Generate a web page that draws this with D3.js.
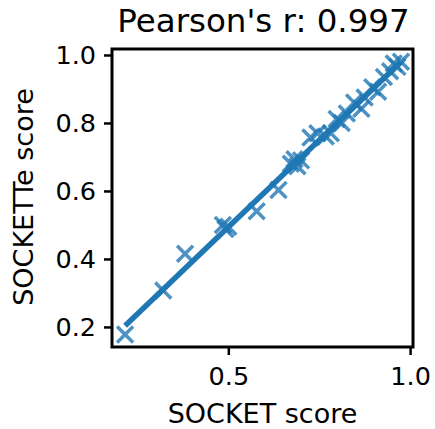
<!DOCTYPE html>
<html><head><meta charset="utf-8">
<script src="https://cdn.jsdelivr.net/npm/d3@7"></script>
<style>body{margin:0;background:#fff}svg{display:block;font-family:"DejaVu Sans",sans-serif}</style>
</head><body>
<script>
const titleText = "Pearson's r: 0.997";
const xLabel = "SOCKET score";
const yLabel = "SOCKETTe score";
const socketScores = [0.216, 0.321, 0.381, 0.485, 0.492, 0.500, 0.578, 0.638, 0.672, 0.682, 0.690, 0.700, 0.726, 0.745, 0.768, 0.782, 0.798, 0.812, 0.826, 0.846, 0.866, 0.875, 0.896, 0.912, 0.928, 0.945, 0.955, 0.965, 0.975];
const socketteScores = [0.178, 0.307, 0.415, 0.500, 0.488, 0.495, 0.540, 0.603, 0.680, 0.693, 0.673, 0.690, 0.757, 0.770, 0.760, 0.770, 0.812, 0.800, 0.828, 0.860, 0.842, 0.875, 0.905, 0.892, 0.935, 0.952, 0.975, 0.965, 0.980];
const xTicks = [0.5, 1.0];
const yTicks = [0.2, 0.4, 0.6, 0.8, 1.0];
const xLimits = [0.18, 1.008];
const yLimits = [0.141, 1.0176];

const W = 435, H = 429;
const m = {left: 112, right: 435 - 413, top: 49, bottom: 429 - 347};
const svg = d3.select("body").append("svg").attr("width", W).attr("height", H);
const x = d3.scaleLinear().domain(xLimits).range([m.left, W - m.right]);
const y = d3.scaleLinear().domain(yLimits).range([H - m.bottom, m.top]);

// regression fit
const n = socketScores.length;
const mx = d3.mean(socketScores), my = d3.mean(socketteScores);
let sxy = 0, sxx = 0;
for (let i = 0; i < n; i++) { sxy += (socketScores[i]-mx)*(socketteScores[i]-my); sxx += (socketScores[i]-mx)**2; }
const slope = sxy / sxx, icpt = my - slope * mx;
const [x0, x1] = d3.extent(socketScores);

const col = "#1f77b4";
const pts = svg.append("g");
const s = 8;
socketScores.forEach((v, i) => {
  const cx = x(v), cy = y(socketteScores[i]);
  pts.append("path")
    .attr("d", `M${cx-s},${cy-s}L${cx+s},${cy+s}M${cx-s},${cy+s}L${cx+s},${cy-s}`)
    .attr("stroke", col).attr("stroke-opacity", 0.8).attr("stroke-width", 3.5).attr("fill", "none");
});
svg.append("line")
  .attr("x1", x(x0)).attr("y1", y(icpt + slope*x0))
  .attr("x2", x(x1)).attr("y2", y(icpt + slope*x1))
  .attr("stroke", col).attr("stroke-width", 5.5).attr("stroke-linecap", "butt");

// axes
const xa = svg.append("g").attr("transform", `translate(0,${H - m.bottom})`)
  .call(d3.axisBottom(x).tickValues(xTicks).tickFormat(d3.format(".1f")).tickSize(8).tickPadding(12));
const ya = svg.append("g").attr("transform", `translate(${m.left},0)`)
  .call(d3.axisLeft(y).tickValues(yTicks).tickFormat(d3.format(".1f")).tickSize(8).tickPadding(8));
[xa, ya].forEach(a => {
  a.select(".domain").remove();
  a.selectAll(".tick line").attr("stroke", "#000").attr("stroke-width", 2.5);
  a.selectAll(".tick text").attr("fill", "#000").style("font-size", "25.5px").style("font-family", "DejaVu Sans");
});
svg.append("rect").attr("x", m.left).attr("y", m.top)
  .attr("width", W - m.right - m.left).attr("height", H - m.bottom - m.top)
  .attr("fill", "none").attr("stroke", "#000").attr("stroke-width", 3);

svg.append("text").attr("x", (m.left + W - m.right)/2 + 1).attr("y", 32)
  .attr("text-anchor", "middle").style("font-size", "32.5px").text(titleText);
svg.append("text").attr("x", (m.left + W - m.right)/2).attr("y", 423)
  .attr("text-anchor", "middle").style("font-size", "27px").text(xLabel);
svg.append("text").attr("transform", `translate(33,${(m.top + H - m.bottom)/2 - 1}) rotate(-90)`)
  .attr("text-anchor", "middle").style("font-size", "27px").text(yLabel);
</script>
</body></html>
